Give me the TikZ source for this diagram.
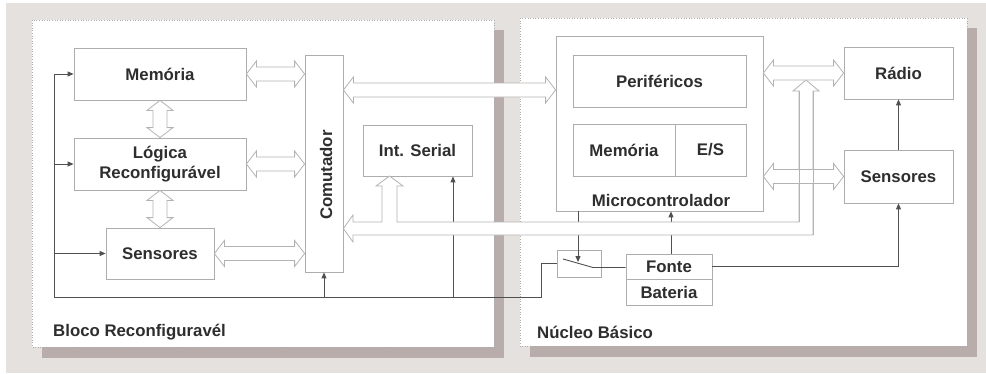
\documentclass[tikz,border=0pt]{standalone}
\usepackage{fontspec}
\setmainfont{Liberation Sans}
\usetikzlibrary{arrows.meta,calc}
\definecolor{bgc}{HTML}{E5E1DE}
\definecolor{shc}{HTML}{B9ADAB}
\definecolor{boxc}{HTML}{ADADAD}
\definecolor{txt}{HTML}{2E2E2E}
\definecolor{ctl}{HTML}{505050}
\definecolor{busc}{HTML}{B3B3B3}
\newcommand\hbus[3][]{\path[bus,#1] let \p1=#2, \p2=#3 in (\x1,\y1) -- (\x1+10pt,\y1+13pt) -- (\x1+10pt,\y1+7pt) -- (\x2-10pt,\y1+7pt) -- (\x2-10pt,\y1+13pt) -- (\x2,\y1) -- (\x2-10pt,\y1-13pt) -- (\x2-10pt,\y1-7pt) -- (\x1+10pt,\y1-7pt) -- (\x1+10pt,\y1-13pt) -- cycle;}
\newcommand\vbus[3][]{\path[bus,#1] let \p1=#2, \p2=#3 in (\x1,\y1) -- (\x1+13pt,\y1-10pt) -- (\x1+7pt,\y1-10pt) -- (\x1+7pt,\y2+10pt) -- (\x1+13pt,\y2+10pt) -- (\x1,\y2) -- (\x1-13pt,\y2+10pt) -- (\x1-7pt,\y2+10pt) -- (\x1-7pt,\y1-10pt) -- (\x1-13pt,\y1-10pt) -- cycle;}
\tikzset{
  blk/.style={draw=boxc, line width=0.8pt, fill=white, inner sep=0pt, font=\fontsize{16.8}{20}\selectfont\bfseries, text=txt, align=center},
  lbl/.style={inner sep=0pt, font=\fontsize{16.8}{20}\selectfont\bfseries, text=txt},
  ctrl/.style={draw=ctl, line width=0.9pt},
  ctrlarr/.style={ctrl, -{Triangle[length=6pt,width=5pt]}},
  bus/.style={draw=busc, line width=0.8pt, fill=white},
  panel/.style={fill=white, draw=boxc, dotted, line width=0.6pt},
}
\begin{document}
\begin{tikzpicture}[x=1pt,y=-1pt]
\useasboundingbox (0,0) rectangle (986,373);
\fill[bgc] (6,3) rectangle (986,373);
% panels
\fill[shc] (42,30) rectangle (504,358);
\path[panel] (32,20) rectangle (494,347);
\fill[shc] (530,28) rectangle (977,357);
\path[panel] (520,18) rectangle (967,346);
% left panel boxes
\node[blk, minimum width=172pt, minimum height=52pt] (mem) at (160,74) {Memória};
\node[blk, minimum width=172pt, minimum height=52pt] (log) at (160,164) {Lógica\\Reconfigurável};
\node[blk, minimum width=108pt, minimum height=51pt] (sen) at (160,253.5) {Sensores};
\node[blk, minimum width=38pt, minimum height=217pt] (com) at (324,163.5) {};
\node[lbl, rotate=90] (comlbl) at (326,175) {Comutador};
\node[blk, minimum width=109pt, minimum height=51pt] (ser) at (417.5,150.5) {Int. Serial};
% right panel boxes
\node[blk, minimum width=207pt, minimum height=175pt] (mcu) at (659.5,123.5) {};
\node[lbl] (mculbl) at (661,200) {Microcontrolador};
\node[blk, minimum width=173pt, minimum height=52pt] (per) at (659.5,81) {Periféricos};
\node[blk, minimum width=102pt, minimum height=52pt] (memr) at (624,150) {Memória};
\node[blk, minimum width=71pt, minimum height=52pt] (es) at (710.5,150) {E/S};
\node[blk, minimum width=109pt, minimum height=52pt] (rad) at (898.5,73) {Rádio};
\node[blk, minimum width=109pt, minimum height=53pt] (senr) at (898.5,176.5) {Sensores};
\node[blk, minimum width=44pt, minimum height=27pt] (sw) at (579,263.5) {};
\node[blk, minimum width=86pt, minimum height=25pt] (fonte) at (669,266.5) {Fonte};
\node[blk, minimum width=86pt, minimum height=26pt] (bat) at (669,292) {Bateria};
% panel labels
\node[lbl, anchor=west] (lblA) at (53,332) {Bloco Reconfiguravél};
\node[lbl, anchor=west] (lblB) at (537,332) {Núcleo Básico};
% control lines
\coordinate (ctop) at (54,74);
\coordinate (cbot) at (54,297);
\coordinate (cturn) at (541,297);
\draw[ctrl] (ctop) -- (cbot) -- (cturn) |- (sw.west);
\draw[ctrlarr] (ctop) -- (mem.west);
\draw[ctrlarr] (ctop |- log.west) -- (log.west);
\draw[ctrlarr] (ctop |- sen.west) -- (sen.west);
\draw[ctrlarr] (com.south |- cbot) -- (com.south);
\draw[ctrlarr] (453,297) coordinate (sarr) -- (sarr |- ser.south);
% switch
\coordinate (swa) at (563,259);
\coordinate (swb) at (593,267.5);
\draw[ctrl] (swa) -- (swb) -- (fonte.west |- swb);
\draw[ctrlarr] (mcu.south -| 578,0) -- (578,262);
\draw[ctrlarr] (fonte.north -| 671,0) -- (mcu.south -| 671,0);
\draw[ctrlarr] (fonte.east) -| (senr.south);
\draw[ctrlarr] (senr.north) -- (rad.south);
% buses
\hbus{(mem.east)}{(com.west |- mem.east)}
\hbus{(log.east)}{(com.west |- log.east)}
\hbus{(sen.east)}{(com.west |- sen.east)}
\vbus{(mem.south)}{(log.north)}
\vbus{(log.south)}{(sen.north)}
\hbus{(com.east |- 0,90)}{(mcu.west |- 0,90)}
\path[bus] (com.east |- 0,228.5) -- (353,215) -- (353,222) -- (382,222) -- (382,186) -- (376,186) -- (389.5,176) -- (403,186) -- (397,186) -- (397,222) -- (799,222) -- (799,91) -- (793,91) -- (806,80) -- (819,91) -- (813,91) -- (813,235) -- (353,235) -- (353,242) -- cycle;
\hbus{(mcu.east |- senr.west)}{(senr.west)}
\draw[draw=busc, line width=0.8pt] (799,222) -- (799,91) (813,91) -- (813,235);
\hbus{(mcu.east |- rad.west)}{(rad.west)}
\end{tikzpicture}
\end{document}
